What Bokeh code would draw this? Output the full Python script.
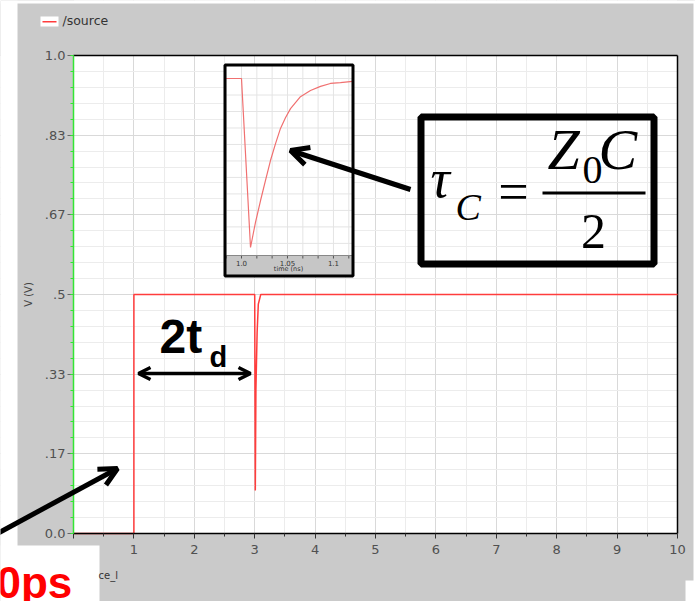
from bokeh.plotting import figure
from bokeh.models import Range1d, FixedTicker, BoxAnnotation, Label, Arrow, OpenHead
from bokeh.core.properties import value
from bokeh.embed import file_html
from bokeh.resources import INLINE

# /source waveform: time (ns) and voltage (V)
src_time = [0.0, 1.0, 1.0, 3.0, 3.01, 3.02, 3.04, 3.06, 3.1, 10.0]
src_volt = [0.0, 0.0, 0.5, 0.5, 0.09, 0.30, 0.42, 0.48, 0.5, 0.5]

# close-up of the capacitive dip (time in ns)
dip_time = [0.9826, 1.0, 1.0098, 1.0152, 1.0207, 1.0261, 1.0315, 1.037, 1.0424, 1.0478,
            1.0533, 1.0641, 1.075, 1.0859, 1.0967, 1.1076, 1.1207]
dip_volt = [0.5, 0.5, 0.09, 0.151, 0.204, 0.253, 0.301, 0.342, 0.379, 0.405,
            0.427, 0.456, 0.471, 0.481, 0.488, 0.490, 0.493]

# main axes ticks
x_ticks = [0, 1, 2, 3, 4, 5, 6, 7, 8, 9, 10]
x_minor = [0.5, 1.5, 2.5, 3.5, 4.5, 5.5, 6.5, 7.5, 8.5, 9.5]
y_ticks = [0.0, 1 / 6, 1 / 3, 0.5, 2 / 3, 5 / 6, 1.0]
y_labels = ["0.0", ".17", ".33", ".5", ".67", ".83", "1.0"]
y_minor = [k / 30 for k in range(31)]

# close-up ticks and grid
dip_ticks = [1.0, 1.05, 1.1]
dip_labels = ["1.0", "1.05", "1.1"]
dip_grid_t = [0.9833, 1.0, 1.0167, 1.0333, 1.05, 1.0667, 1.0833, 1.1, 1.1167]
dip_grid_v = [0.10, 0.14, 0.18, 0.22, 0.26, 0.30, 0.34, 0.38, 0.42, 0.46, 0.50]

# ---- canvas geometry (pixels, origin top-left) ----
W, H = 695, 601
PX0, PX1 = 73, 677      # x = 0 .. 10
PY0, PY1 = 533, 55      # y = 0 .. 1

x_per_px = (x_ticks[-1] - x_ticks[0]) / (PX1 - PX0)
y_per_px = (y_ticks[-1] - y_ticks[0]) / (PY0 - PY1)


def sx(px):
    return px


def sy(py):
    return H - py


# close-up panel placement
IN_L, IN_R, IN_T, IN_PB, IN_B = 225, 352, 64, 255, 275
T0, T1 = 0.9826, 1.1207
V0, V1 = 0.0706, 0.534
kx = (IN_R - IN_L) / (T1 - T0)
ky = (IN_PB - IN_T) / (V1 - V0)


def v_at(py):
    return V0 + (IN_PB - py) / ky


GRAY = "#cacaca"
RED = "#ff3c3c"

p = figure(width=W, height=H, output_backend="svg", toolbar_location=None, title=None,
           x_range=Range1d(x_ticks[0] - PX0 * x_per_px, x_ticks[-1] + (W - PX1) * x_per_px),
           y_range=Range1d(y_ticks[0] - (H - PY0) * y_per_px, y_ticks[-1] + PY1 * y_per_px),
           min_border=0, min_border_left=0, min_border_right=0,
           min_border_top=0, min_border_bottom=0,
           background_fill_color="white", border_fill_color=GRAY)
p.outline_line_color = None

p.extra_x_ranges = {"dip_t": Range1d(T0 - IN_L / kx, T1 + (W - IN_R) / kx)}
p.extra_y_ranges = {"dip_v": Range1d(V0 - (H - IN_PB) / ky, V1 + IN_T / ky)}

# axes, pinned to the plot area corners
xa = p.xaxis[0]
xa.fixed_location = y_ticks[0]
xa.bounds = (x_ticks[0], x_ticks[-1])
xa.ticker = FixedTicker(ticks=x_ticks, minor_ticks=x_minor)
xa.major_label_overrides = {0: ""}
xa.axis_line_color = "black"
xa.axis_line_width = 1.5
xa.major_tick_line_color = "#333333"
xa.minor_tick_line_color = "#333333"
xa.major_tick_out = 5
xa.major_tick_in = 0
xa.minor_tick_out = 3
xa.minor_tick_in = 0
xa.major_label_standoff = 6
xa.major_label_text_font = "DejaVu Sans"
xa.major_label_text_font_size = "13px"
xa.major_label_text_color = "#505050"

ya = p.yaxis[0]
ya.fixed_location = x_ticks[0]
ya.bounds = (y_ticks[0], y_ticks[-1])
ya.ticker = FixedTicker(ticks=y_ticks, minor_ticks=y_minor)
ya.major_label_overrides = {t: s for t, s in zip(y_ticks, y_labels)}
ya.axis_line_color = "#33e633"
ya.axis_line_width = 1.5
ya.major_tick_line_color = "#666666"
ya.minor_tick_line_color = "#33e633"
ya.major_tick_out = 6
ya.major_tick_in = 0
ya.minor_tick_out = 3
ya.minor_tick_in = 0
ya.major_label_standoff = 2
ya.major_label_text_font = "DejaVu Sans"
ya.major_label_text_font_size = "13px"
ya.major_label_text_color = "#505050"
ya.axis_label = "V (V)"
ya.axis_label_text_font = "DejaVu Sans"
ya.axis_label_text_font_size = "10px"
ya.axis_label_text_font_style = "normal"
ya.axis_label_text_color = "#444444"
ya.axis_label_standoff = 8

for g in (p.xgrid[0], p.ygrid[0]):
    g.grid_line_color = "#d9d9d9"
    g.minor_grid_line_color = "#ececec"


def screen_box(l, r, t, b, **kw):
    kw.setdefault("line_color", None)
    kw.setdefault("fill_alpha", 1)
    kw.setdefault("line_alpha", 1)
    return BoxAnnotation(left=sx(l), right=sx(r), top=sy(t), bottom=sy(b),
                         left_units="screen", right_units="screen",
                         top_units="screen", bottom_units="screen", **kw)


# grey surround of the plot area, then white page margins
for (l, r, t, b) in [(0, PX0, 0, H), (PX1, W, 0, H), (0, W, 0, PY1), (0, W, PY0, H)]:
    p.add_layout(screen_box(l, r, t, b, fill_color=GRAY, level="underlay"))
for (l, r, t, b) in [(0, 17, 0, H), (0, W, 0, 3), (693, W, 0, H), (685, W, 580, H), (0, 99, 545, H)]:
    p.add_layout(screen_box(l, r, t, b, fill_color="white", level="underlay"))

# top and right edges of the plot area
p.segment(x0=[x_ticks[0], x_ticks[-1]], x1=[x_ticks[-1], x_ticks[-1]],
          y0=[y_ticks[-1], y_ticks[0]], y1=[y_ticks[-1], y_ticks[-1]],
          line_color="black", line_width=1.5)

# main trace
p.line(src_time, src_volt, line_color=RED, line_width=1.5)

# close-up panel: background, grid, trace, labels, frame
p.add_layout(screen_box(IN_L, IN_R, IN_T, IN_PB, fill_color="white", level="underlay"))
p.add_layout(screen_box(IN_L, IN_R, IN_PB, IN_B, fill_color="#c6c6c6",
                        line_color="#888888", line_width=1, level="underlay"))
p.segment(x0=dip_grid_t, x1=dip_grid_t, y0=[V0] * len(dip_grid_t), y1=[V1] * len(dip_grid_t),
          x_range_name="dip_t", y_range_name="dip_v", line_color="#e4e4e4", line_width=1)
p.segment(x0=[T0] * len(dip_grid_v), x1=[T1] * len(dip_grid_v), y0=dip_grid_v, y1=dip_grid_v,
          x_range_name="dip_t", y_range_name="dip_v", line_color="#e4e4e4", line_width=1)
p.segment(x0=dip_grid_t, x1=dip_grid_t, y0=[V0] * len(dip_grid_t), y1=[v_at(IN_PB + 3)] * len(dip_grid_t),
          x_range_name="dip_t", y_range_name="dip_v", line_color="#555555", line_width=1)
p.line(dip_time, dip_volt, x_range_name="dip_t", y_range_name="dip_v",
       line_color="#f07070", line_width=1.2)
p.text(x=dip_ticks, y=[v_at(262)] * len(dip_ticks), text=dip_labels,
       x_range_name="dip_t", y_range_name="dip_v",
       text_font=value("DejaVu Sans"), text_font_size="7px", text_color="#333333",
       text_align="center", text_baseline="middle")
p.add_layout(Label(x=sx(288), y=sy(268.5), x_units="screen", y_units="screen", text="time (ns)",
                   text_font="DejaVu Sans", text_font_size="6.5px", text_color="#333333",
                   text_align="center", text_baseline="middle"))
p.add_layout(screen_box(IN_L - 0.5, IN_R + 0.5, IN_T + 0.5, IN_B + 0.5, fill_alpha=0,
                        line_color="black", line_width=3))

# formula box
p.add_layout(screen_box(420.5, 653.5, 116.5, 263.5, fill_alpha=0, line_color="black", line_width=7))


def lab(x, base, text, font, size, style="normal", align="left", color="black"):
    # base: pixel row of the text baseline
    p.add_layout(Label(x=sx(x), y=sy(base - 0.4 * size), x_units="screen", y_units="screen",
                       text=text, text_font=font, text_font_size=f"{size}px",
                       text_font_style=style, text_align=align, text_baseline="alphabetic",
                       text_color=color))


SERIF = "Liberation Serif"
lab(430, 200, "τ", SERIF, 54, "italic")
lab(455, 222, "C", SERIF, 38, "italic")
lab(513, 212.6, "=", SERIF, 54, align="center")
lab(547, 172, "Z", SERIF, 58, "italic")
lab(582, 185, "0", SERIF, 40)
lab(598, 172, "C", SERIF, 58, "italic")
p.add_layout(screen_box(542, 645, 191, 194, fill_color="black"))
lab(593, 251, "2", SERIF, 50, align="center")

# 2t_d annotation
lab(159, 355, "2t", "Liberation Sans", 48, "bold")
lab(209, 368, "d", "Liberation Sans", 29, "bold")
p.add_layout(Arrow(start=OpenHead(size=12, line_width=3.5), end=OpenHead(size=12, line_width=3.5),
                   x_start=sx(138), y_start=sy(373), x_end=sx(250), y_end=sy(373),
                   start_units="screen", end_units="screen", line_width=3.5))

# pointer to the close-up curve
p.add_layout(Arrow(end=OpenHead(size=18, line_width=5),
                   x_start=sx(410), y_start=sy(189), x_end=sx(290), y_end=sy(150),
                   start_units="screen", end_units="screen", line_width=5))

# legend
p.add_layout(screen_box(40, 58, 16, 26, fill_color="white"))
p.add_layout(screen_box(42, 56, 20.5, 22, fill_color=RED))
lab(62, 25, "/source", "DejaVu Sans", 12.5, color="#333333")

# bottom-left notes
lab(98, 579, "ce_l", "DejaVu Sans", 10, color="#333333")
lab(-4, 600, "0ps", "Liberation Sans", 44, "bold", color="#ff0000")
p.add_layout(Arrow(end=OpenHead(size=18, line_width=5),
                   x_start=sx(-5), y_start=sy(534), x_end=sx(117), y_end=sy(468),
                   start_units="screen", end_units="screen", line_width=5))

open("out.html", "w").write(file_html(p, INLINE))
